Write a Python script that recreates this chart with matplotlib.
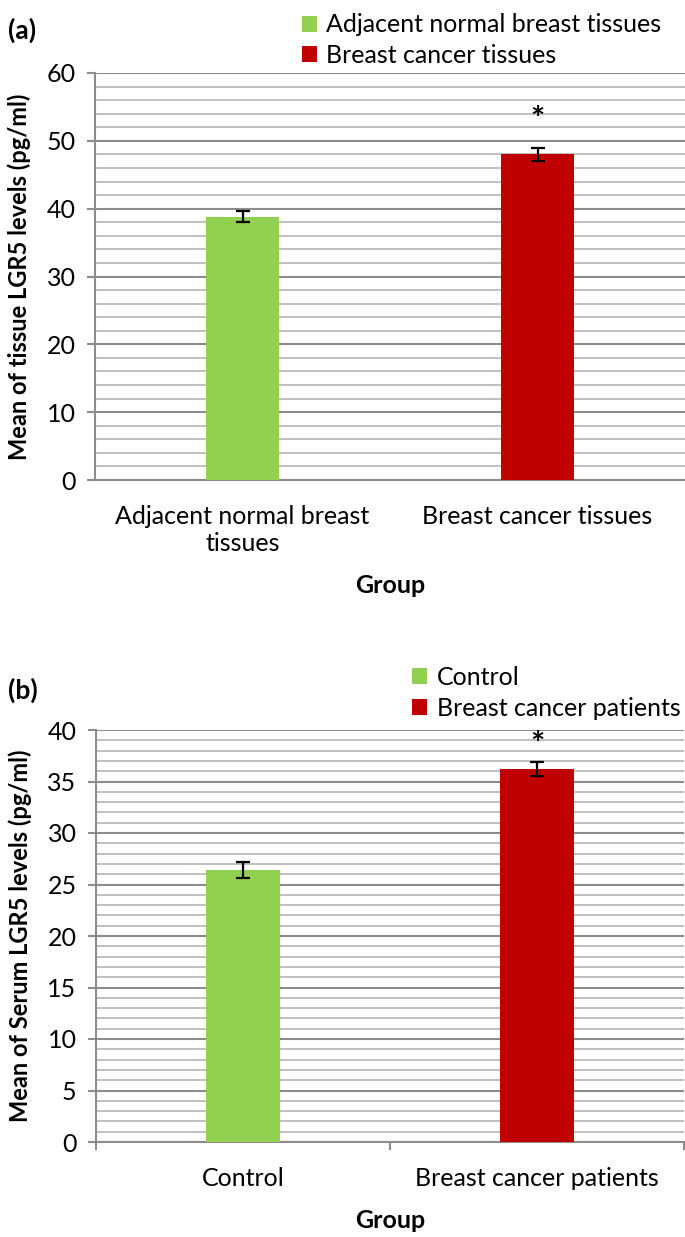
import numpy as np
import matplotlib
matplotlib.use("Agg")
import matplotlib.pyplot as plt
from matplotlib.ticker import MultipleLocator

plt.rcParams['font.family'] = ['Lato', 'DejaVu Sans']

# panel (a): tissue
tissue_groups = ["Adjacent normal breast\ntissues", "Breast cancer tissues"]
tissue_legend = ["Adjacent normal breast tissues", "Breast cancer tissues"]
tissue_means = [38.8, 48.0]
tissue_err = [0.8, 0.95]

# panel (b): serum
serum_groups = ["Control", "Breast cancer patients"]
serum_legend = ["Control", "Breast cancer patients"]
serum_means = [26.4, 36.2]
serum_err = [0.8, 0.7]

colors = ["#92D050", "#C00000"]
major_grid = "#8c8c8c"
minor_grid = "#bfbfbf"

fig = plt.figure(figsize=(6.85, 12.37), dpi=100)
W, H = 685, 1237


def add_axes(left, top, right, bottom):
    return fig.add_axes([left / W, 1 - bottom / H, (right - left) / W, (bottom - top) / H])


def draw_panel(ax, groups, legend_names, means, errs, ymax, major, minor,
               ylabel, star_off, leg_x, leg_y, xticks_marks):
    x = np.arange(len(groups))
    bars = ax.bar(x, means, width=0.25, color=colors, zorder=3)
    ax.errorbar(x, means, yerr=errs, fmt='none', ecolor='black', elinewidth=1.6,
                capsize=4.8, capthick=1.6, zorder=4)
    # significance star over the cancer bar
    ax.annotate("*", xy=(x[1], means[1] + errs[1]), xytext=(0, star_off),
                textcoords='offset points', ha='center', va='center',
                fontsize=24, fontweight='bold')

    ax.set_xlim(-0.5, len(groups) - 0.5)
    ax.set_ylim(0, ymax)
    ax.yaxis.set_major_locator(MultipleLocator(major))
    ax.yaxis.set_minor_locator(MultipleLocator(minor))
    ax.grid(axis='y', which='major', color=major_grid, linewidth=1.5, zorder=0)
    ax.grid(axis='y', which='minor', color=minor_grid, linewidth=1.4, zorder=0)
    ax.set_axisbelow(True)

    for s in ['top', 'right']:
        ax.spines[s].set_visible(False)
    for s in ['left', 'bottom']:
        ax.spines[s].set_color(major_grid)
        ax.spines[s].set_linewidth(1.5)

    ax.tick_params(axis='y', which='major', length=6, width=1.5, color=major_grid,
                   labelsize=18, pad=8)
    ax.tick_params(axis='y', which='minor', length=0)

    if xticks_marks:
        ax.set_xticks(np.arange(-0.5, len(groups), 1.0))
        ax.set_xticklabels([""] * (len(groups) + 1))
        ax.set_xticks(x, minor=True)
        ax.set_xticklabels(groups, minor=True, fontsize=18)
        ax.tick_params(axis='x', which='major', length=6, width=1.5, color=major_grid)
        ax.tick_params(axis='x', which='minor', length=0, pad=18)
    else:
        ax.set_xticks(x)
        ax.set_xticklabels(groups, fontsize=18)
        ax.tick_params(axis='x', length=0, pad=18)

    ax.set_xlabel("Group", fontsize=18, fontweight='bold', labelpad=14)
    ax.set_ylabel(ylabel, fontsize=17, fontweight='bold')
    ax.yaxis.set_label_coords(-0.108, 0.5)

    ax.legend(bars, legend_names, loc='lower left', bbox_to_anchor=(leg_x, leg_y),
              frameon=False, fontsize=18, handlelength=0.6, handleheight=0.6,
              handletextpad=0.4, labelspacing=0.3, borderpad=0, borderaxespad=0)


ax1 = add_axes(95, 73, 685, 480)
draw_panel(ax1, tissue_groups, tissue_legend, tissue_means, tissue_err, 60, 10, 2,
           "Mean of tissue LGR5 levels (pg/ml)", 20, 0.35, 1.015, False)

ax2 = add_axes(96, 730, 684, 1142)
draw_panel(ax2, serum_groups, serum_legend, serum_means, serum_err, 40, 5, 1,
           "Mean of Serum LGR5 levels (pg/ml)", 12, 0.537, 1.025, True)

fig.text(8 / W, 1 - 30 / H, "(a)", fontsize=19, fontweight='bold', va='center', ha='left')
fig.text(8 / W, 1 - 690 / H, "(b)", fontsize=19, fontweight='bold', va='center', ha='left')

fig.savefig("out.png", dpi=100)
